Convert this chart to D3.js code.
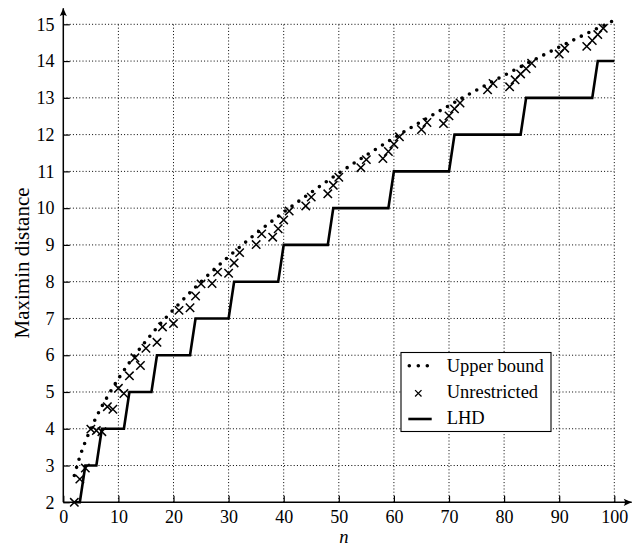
<!DOCTYPE html>
<html>
<head>
<meta charset="utf-8">
<script src="https://cdn.jsdelivr.net/npm/d3@7"></script>
<style>
  body { margin: 0; background: #fff; }
  svg text { font-family: "Liberation Serif", "Times New Roman", serif; fill: #000; }
</style>
</head>
<body>
<svg id="container"></svg>
<script>
// upper bound
var boundN = [2, 3, 4, 5, 6, 7, 8, 10, 12, 14, 16, 18, 20, 25, 30, 35, 40, 45, 50, 55, 60, 65, 70, 75, 80, 85, 90, 95, 100];
var boundD = [2.73, 3.24, 3.65, 4.0, 4.32, 4.61, 4.87, 5.36, 5.80, 6.20, 6.57, 6.92, 7.24, 8.0, 8.68, 9.31, 9.89, 10.43, 10.95, 11.44, 11.91, 12.36, 12.79, 13.21, 13.61, 14.0, 14.38, 14.75, 15.11];

// unrestricted designs (crosses)
var freeN = [2, 3, 4, 5, 6, 7, 8, 9, 10, 11, 12, 13, 14, 15, 17, 18, 20, 21, 23, 24, 25, 27, 28, 30, 31, 32, 35, 36, 38, 39, 40, 41, 44, 45, 48, 49, 50, 54, 55, 58, 59, 60, 61, 65, 66, 69, 70, 71, 72, 77, 78, 81, 82, 83, 84, 85, 90, 91, 95, 96, 97, 98];
var freeD = [2.0, 2.63, 2.93, 3.99, 3.95, 3.92, 4.60, 4.53, 5.10, 4.96, 5.44, 5.93, 5.72, 6.19, 6.35, 6.77, 6.86, 7.22, 7.29, 7.61, 7.94, 7.95, 8.26, 8.23, 8.51, 8.79, 9.01, 9.30, 9.21, 9.44, 9.68, 9.92, 10.06, 10.30, 10.39, 10.62, 10.84, 11.10, 11.32, 11.35, 11.54, 11.74, 11.94, 12.14, 12.33, 12.30, 12.51, 12.70, 12.86, 13.22, 13.39, 13.30, 13.49, 13.65, 13.79, 13.94, 14.19, 14.35, 14.40, 14.56, 14.72, 14.89];

// LHD, n = 2 .. 100
var lhdN = d3.range(2, 101);
var lhdD = [2, 2,
  3, 3, 3,
  4, 4, 4, 4, 4,
  5, 5, 5, 5, 5,
  6, 6, 6, 6, 6, 6, 6,
  7, 7, 7, 7, 7, 7, 7,
  8, 8, 8, 8, 8, 8, 8, 8, 8,
  9, 9, 9, 9, 9, 9, 9, 9, 9,
  10, 10, 10, 10, 10, 10, 10, 10, 10, 10, 10,
  11, 11, 11, 11, 11, 11, 11, 11, 11, 11, 11,
  12, 12, 12, 12, 12, 12, 12, 12, 12, 12, 12, 12, 12,
  13, 13, 13, 13, 13, 13, 13, 13, 13, 13, 13, 13, 13,
  14, 14, 14, 14];

var xTicks = d3.range(0, 101, 10);
var yTicks = d3.range(2, 16, 1);
var legendLabels = ["Upper bound", "Unrestricted", "LHD"];

const margin = {top: 24.3, right: 20.7, bottom: 44.7, left: 63.3},
  w = 635 - margin.left - margin.right,
  h = 547 - margin.top - margin.bottom;

var svg = d3.select("#container")
  .attr("width", 635)
  .attr("height", 547)
  .append("g")
  .attr("transform", "translate(" + margin.left + "," + margin.top + ")");

var xScale = d3.scaleLinear().domain([0, 100]).range([0, w]);
var yScale = d3.scaleLinear().domain([2, 15]).range([h, 0]);

// grid
var grid = svg.append("g").attr("class", "grid")
  .attr("stroke", "#000").attr("stroke-width", 1).attr("stroke-dasharray", "1,2.2");
grid.selectAll(".gx").data(xTicks.filter(d => d > 0)).enter().append("line")
  .attr("x1", d => xScale(d)).attr("x2", d => xScale(d))
  .attr("y1", h).attr("y2", yScale(15));
grid.selectAll(".gy").data(yTicks.filter(d => d > 2)).enter().append("line")
  .attr("x1", 0).attr("x2", xScale(100))
  .attr("y1", d => yScale(d)).attr("y2", d => yScale(d));

// axes
var xAxis = d3.axisBottom(xScale).tickValues(xTicks).tickSize(-6.5).tickPadding(8);
var yAxis = d3.axisLeft(yScale).tickValues(yTicks).tickSize(-6.5).tickPadding(8.8);

var gX = svg.append("g").attr("transform", "translate(0," + h + ")").call(xAxis);
var gY = svg.append("g").call(yAxis);
[gX, gY].forEach(function(g) {
  g.select(".domain").remove();
  g.selectAll(".tick line").attr("stroke", "#000").attr("stroke-width", 1.2);
  g.selectAll(".tick text").attr("font-size", 18).style("font-family", "Liberation Serif, serif");
});

// axis lines with arrows
svg.append("line").attr("x1", 0).attr("x2", 631.7 - margin.left).attr("y1", h).attr("y2", h)
  .attr("stroke", "#000").attr("stroke-width", 1.5);
svg.append("line").attr("x1", 0).attr("x2", 0).attr("y1", h).attr("y2", 8.3 - margin.top)
  .attr("stroke", "#000").attr("stroke-width", 1.5);
var ax = 631.7 - margin.left;
svg.append("path")
  .attr("d", "M" + ax + "," + h + " L" + (ax - 8) + "," + (h - 3.6) + " Q" + (ax - 5.5) + "," + h + " " + (ax - 8) + "," + (h + 3.6) + " Z")
  .attr("fill", "#000");
var ay = 8.3 - margin.top;
svg.append("path")
  .attr("d", "M0," + ay + " L-3.6," + (ay + 8) + " Q0," + (ay + 5.5) + " 3.6," + (ay + 8) + " Z")
  .attr("fill", "#000");

// axis titles
svg.append("text")
  .attr("transform", "translate(" + (28.5 - margin.left) + "," + (263 - margin.top) + ") rotate(-90)")
  .attr("text-anchor", "middle").attr("font-size", 21)
  .text("Maximin distance");
svg.append("text")
  .attr("x", 344 - margin.left).attr("y", 542.8 - margin.top)
  .attr("text-anchor", "middle").attr("font-size", 18.5).attr("font-style", "italic")
  .text("n");

// LHD step line
var lhdLine = d3.line().x((d, i) => xScale(lhdN[i])).y(d => yScale(d));
svg.append("path").datum(lhdD)
  .attr("d", lhdLine)
  .attr("fill", "none").attr("stroke", "#000").attr("stroke-width", 2.6)
  .attr("stroke-linejoin", "miter");

// upper bound dotted curve
var boundLine = d3.line().curve(d3.curveMonotoneX).x((d, i) => xScale(boundN[i])).y(d => yScale(d));
svg.append("path").datum(boundD)
  .attr("d", boundLine)
  .attr("fill", "none").attr("stroke", "#000").attr("stroke-width", 3.6)
  .attr("stroke-linecap", "round").attr("stroke-dasharray", "0,8.4");

// crosses
function cross(r) {
  return "M" + (-r) + "," + (-r) + "L" + r + "," + r + "M" + (-r) + "," + r + "L" + r + "," + (-r);
}
svg.selectAll(".cross").data(freeD).enter().append("path")
  .attr("class", "cross")
  .attr("transform", (d, i) => "translate(" + xScale(freeN[i]) + "," + yScale(d) + ")")
  .attr("d", cross(4.2))
  .attr("fill", "none").attr("stroke", "#000").attr("stroke-width", 1.5);

// legend
var lg = svg.append("g").attr("transform", "translate(" + (401 - margin.left) + "," + (352.5 - margin.top) + ")");
lg.append("rect").attr("width", 150).attr("height", 79)
  .attr("fill", "#fff").attr("stroke", "#000").attr("stroke-width", 1.1);
lg.append("line").attr("x1", 8.3).attr("x2", 26.5).attr("y1", 13.2).attr("y2", 13.2)
  .attr("stroke", "#000").attr("stroke-width", 3.6).attr("stroke-linecap", "round").attr("stroke-dasharray", "0,9");
lg.append("path").attr("transform", "translate(17.3,40.8)").attr("d", cross(3.2))
  .attr("fill", "none").attr("stroke", "#000").attr("stroke-width", 1.3);
lg.append("line").attr("x1", 7.3).attr("x2", 30.7).attr("y1", 66.5).attr("y2", 66.5)
  .attr("stroke", "#000").attr("stroke-width", 2.6);
lg.selectAll(".lt").data(legendLabels).enter().append("text")
  .attr("x", 45.7).attr("y", (d, i) => 19.2 + i * 26.3)
  .attr("font-size", 18.5)
  .text(d => d);
</script>
</body>
</html>
